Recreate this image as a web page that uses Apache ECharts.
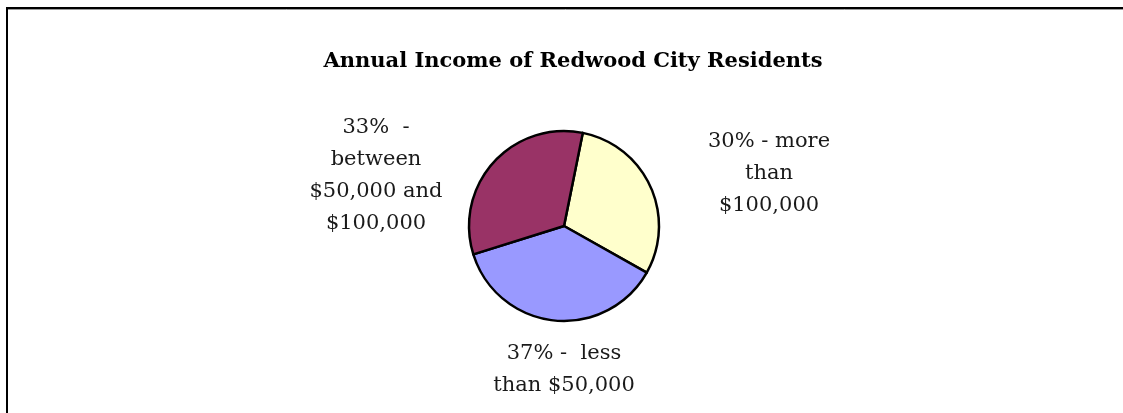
<!DOCTYPE html>
<html>
<head>
<meta charset="utf-8">
<script src="https://cdn.jsdelivr.net/npm/echarts@6/dist/echarts.min.js"></script>
<style>
  html, body { margin: 0; padding: 0; background: #ffffff; }
  #chart { width: 1123px; height: 413px; }
</style>
</head>
<body>
<div id="chart"></div>
<script>
// Income brackets of Redwood City residents, in percent
const categories = ['more than $100,000', 'less than $50,000', 'between $50,000 and $100,000'];
const shares = [30, 37, 33];
const labelTexts = [
  '30% - more\nthan\n$100,000',
  '37% -  less\nthan $50,000',
  '33%  -\nbetween\n$50,000 and\n$100,000'
];
const sliceColors = ['#FFFFCC', '#9999FF', '#993366'];

// label anchor offsets from the pie centre
const labelOffsets = [[205, -52], [0, 144], [-188, -50]];
const pieCenter = [564, 226];

const chart = echarts.init(document.getElementById('chart'), null, { renderer: 'canvas' });

chart.setOption({
  backgroundColor: '#ffffff',
  animation: false,
  title: {
    text: 'Annual Income of Redwood City Residents',
    left: 568,
    top: 46,
    textAlign: 'center',
    textStyle: {
      fontFamily: 'DejaVu Serif',
      fontWeight: 'bold',
      fontSize: 21,
      color: '#000000'
    }
  },
  graphic: [
    {
      type: 'rect',
      shape: { x: 7, y: 8, width: 1200, height: 500 },
      style: { fill: 'none', stroke: '#000000', lineWidth: 2 },
      silent: true
    },
    {
      type: 'line',
      shape: { x1: 8, y1: 9.5, x2: 1123, y2: 9.5 },
      style: { stroke: '#9a9a9a', lineWidth: 1 },
      silent: true
    }
  ],
  series: [{
    type: 'pie',
    center: pieCenter,
    radius: 95,
    startAngle: 78.6,
    clockwise: true,
    avoidLabelOverlap: false,
    itemStyle: { borderColor: '#000000', borderWidth: 2.5 },
    emphasis: { disabled: true },
    label: {
      show: true,
      position: 'outside',
      formatter: (p) => labelTexts[p.dataIndex],
      fontFamily: 'DejaVu Serif',
      fontSize: 21,
      lineHeight: 32,
      color: '#1a1a1a',
      align: 'center'
    },
    labelLine: { show: false },
    labelLayout: (params) => {
      const off = labelOffsets[params.dataIndex];
      return {
        x: pieCenter[0] + off[0],
        y: pieCenter[1] + off[1],
        align: 'center',
        verticalAlign: 'middle'
      };
    },
    data: categories.map((name, i) => ({
      name: name,
      value: shares[i],
      itemStyle: { color: sliceColors[i] }
    }))
  }]
});
</script>
</body>
</html>
